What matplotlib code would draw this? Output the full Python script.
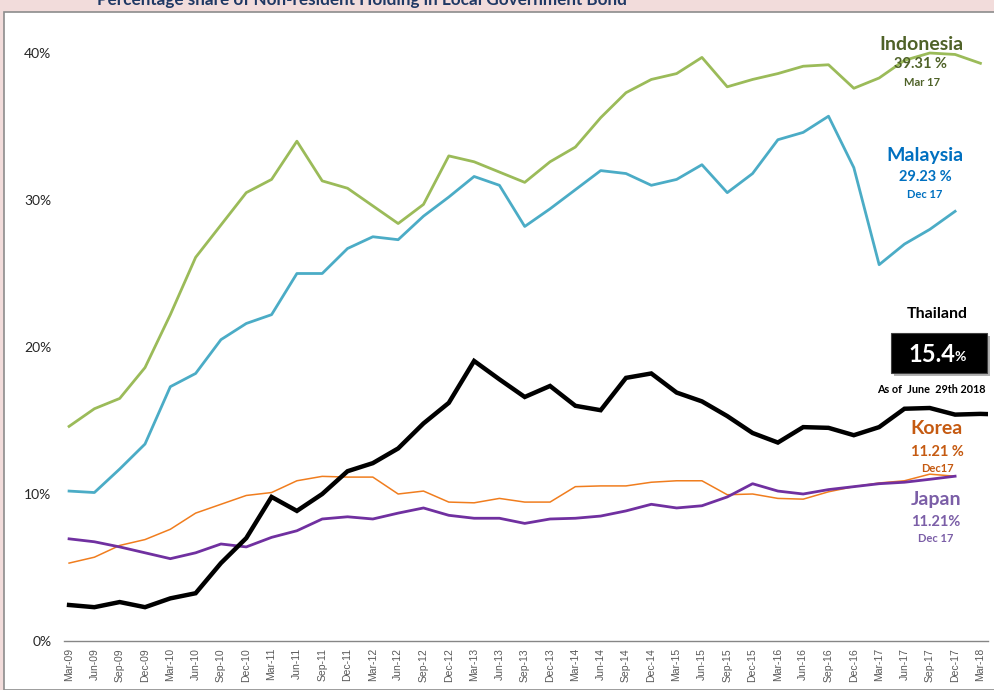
import numpy as np
import matplotlib
matplotlib.use('Agg')
from matplotlib import pyplot as plt
from matplotlib.patches import Rectangle
from matplotlib.ticker import FuncFormatter

'''
Data (percent share, quarterly Mar-09 .. Mar-18)
'''
quarters = ['Mar-09', 'Jun-09', 'Sep-09', 'Dec-09', 'Mar-10', 'Jun-10', 'Sep-10', 'Dec-10',
            'Mar-11', 'Jun-11', 'Sep-11', 'Dec-11', 'Mar-12', 'Jun-12', 'Sep-12', 'Dec-12',
            'Mar-13', 'Jun-13', 'Sep-13', 'Dec-13', 'Mar-14', 'Jun-14', 'Sep-14', 'Dec-14',
            'Mar-15', 'Jun-15', 'Sep-15', 'Dec-15', 'Mar-16', 'Jun-16', 'Sep-16', 'Dec-16',
            'Mar-17', 'Jun-17', 'Sep-17', 'Dec-17', 'Mar-18']

indonesia = [14.6, 15.8, 16.5, 18.6, 22.2, 26.1, 28.3, 30.5, 31.4, 34.0, 31.3, 30.8,
             29.6, 28.4, 29.7, 33.0, 32.6, 31.9, 31.2, 32.6, 33.6, 35.6, 37.3, 38.2,
             38.6, 39.7, 37.7, 38.2, 38.6, 39.1, 39.2, 37.6, 38.3, 39.5, 40.0, 39.9, 39.3]

malaysia = [10.2, 10.1, 11.7, 13.4, 17.3, 18.2, 20.5, 21.6, 22.2, 25.0, 25.0, 26.7,
            27.5, 27.3, 28.9, 30.2, 31.6, 31.0, 28.2, 29.4, 30.7, 32.0, 31.8, 31.0,
            31.4, 32.4, 30.5, 31.8, 34.1, 34.6, 35.7, 32.2, 25.6, 27.0, 28.0, 29.23]

# last value is the Jun-18 reading (15.4%), just past the final label
thailand = [2.45, 2.3, 2.65, 2.3, 2.9, 3.25, 5.3, 7.0, 9.8, 8.85, 10.0, 11.55,
            12.1, 13.1, 14.8, 16.2, 19.05, 17.8, 16.6, 17.35, 16.0, 15.7, 17.9, 18.2,
            16.9, 16.3, 15.3, 14.15, 13.5, 14.55, 14.5, 14.0, 14.55, 15.8, 15.85, 15.4,
            15.45, 15.4]

korea = [5.3, 5.7, 6.5, 6.9, 7.6, 8.7, 9.3, 9.9, 10.1, 10.9, 11.2, 11.15,
         11.15, 10.0, 10.2, 9.45, 9.4, 9.7, 9.45, 9.45, 10.5, 10.55, 10.55, 10.8,
         10.9, 10.9, 9.95, 10.0, 9.7, 9.65, 10.15, 10.5, 10.75, 10.9, 11.35, 11.21]

japan = [6.95, 6.75, 6.4, 6.0, 5.6, 6.0, 6.6, 6.4, 7.05, 7.5, 8.3, 8.45,
         8.3, 8.7, 9.05, 8.55, 8.35, 8.35, 8.0, 8.3, 8.35, 8.5, 8.85, 9.3,
         9.05, 9.2, 9.8, 10.7, 10.2, 10.0, 10.3, 10.5, 10.7, 10.8, 11.0, 11.21]

W, H = 995, 690

def fx(px):
    return px / W

def fy(py):
    return 1 - py / H

'''
Figure and background panel
'''
fig = plt.figure(figsize=(W / 100, H / 100), dpi=100, facecolor='#f2dcdb')
fig.patches.append(Rectangle((fx(4), 0), 1, fy(12), transform=fig.transFigure,
                             facecolor='white', edgecolor='#8c8c8c', linewidth=1.2, zorder=-5))

# title is cut by the top edge, as in the source slide
fig.text(fx(362), fy(5), 'Percentage share of Non-resident Holding in Local Government Bond',
         ha='center', va='baseline', fontsize=12.3, fontweight='bold', color='#1f3864',
         family='Lato')

ax = fig.add_axes([fx(64), fy(641), fx(988) - fx(64), fy(30) - fy(641)])
ax.set_facecolor('none')
ax.set_zorder(1)

'''
Lines
'''
ax.plot(range(len(korea)), korea, color='#f07d1e', lw=1.1, zorder=2)
ax.plot(range(len(japan)), japan, color='#7030a0', lw=2.0, zorder=3)
ax.plot(range(len(malaysia)), malaysia, color='#4bacc6', lw=2.0, zorder=3)
ax.plot(range(len(indonesia)), indonesia, color='#9bbb59', lw=2.0, zorder=3)
ax.plot(range(len(thailand)), thailand, color='black', lw=3.2, zorder=4,
        solid_joinstyle='miter')

ax.set_xlim(-0.2, 36.3)
ax.set_ylim(0, (641 - 30) / 14.7)
ax.set_yticks([0, 10, 20, 30, 40])
ax.yaxis.set_major_formatter(FuncFormatter(lambda v, p: '%d%%' % v))
ax.set_xticks(range(len(quarters)))
ax.set_xticklabels(quarters, rotation=90, fontsize=7.5, color='#595959',
                   family='Liberation Sans')
for lab in ax.get_yticklabels():
    lab.set_family('Lato')
    lab.set_fontsize(10)
    lab.set_color('#262626')
ax.tick_params(axis='both', length=0)
ax.tick_params(axis='y', pad=9)
ax.tick_params(axis='x', pad=5)
for s in ['top', 'right', 'left']:
    ax.spines[s].set_visible(False)
ax.spines['bottom'].set_color('#868686')
ax.spines['bottom'].set_linewidth(1.0)

'''
Labels on the right
'''
def label(x, y, s, size, color, weight='bold'):
    fig.text(fx(x), fy(y), s, ha='center', va='center', fontsize=size,
             fontweight=weight, color=color, family='Lato', zorder=6)

label(921, 44, 'Indonesia', 14, '#4f6228')
label(921, 64, '39.31 %', 10.5, '#4f6228')
label(922, 82, 'Mar 17', 8, '#4f6228')

label(925, 156, 'Malaysia', 14, '#0070c0')
label(925, 177, '29.23 %', 10.5, '#0070c0')
label(925, 195, 'Dec 17', 8, '#0070c0')

label(937, 314, 'Thailand', 11.5, 'black')
fig.patches.append(Rectangle((fx(894), fy(376)), fx(96), fy(336) - fy(376),
                             transform=fig.transFigure, facecolor='#7f7f7f',
                             edgecolor='none', alpha=0.6, zorder=5))
fig.patches.append(Rectangle((fx(891), fy(373)), fx(96), fy(333) - fy(373),
                             transform=fig.transFigure, facecolor='black',
                             edgecolor='#404040', linewidth=0.8, zorder=5))
fig.text(fx(932), fy(354), '15.4', ha='center', va='center', fontsize=17,
         fontweight='bold', color='white', family='Lato', zorder=7)
fig.text(fx(960), fy(357), '%', ha='center', va='center', fontsize=10,
         fontweight='bold', color='white', family='Lato', zorder=7)
label(931, 390, 'As of  June  29th 2018', 7.8, 'black')

label(937, 429, 'Korea', 14, '#c55a11')
label(937, 452, '11.21 %', 10.5, '#c55a11')
label(937, 469, 'Dec17', 8, '#c55a11')

label(936, 500, 'Japan', 14, '#7b5ea7')
label(936, 522, '11.21%', 10.5, '#7b5ea7')
label(936, 539, 'Dec 17', 8, '#7b5ea7')

plt.savefig('out.png', dpi=100, facecolor=fig.get_facecolor())
